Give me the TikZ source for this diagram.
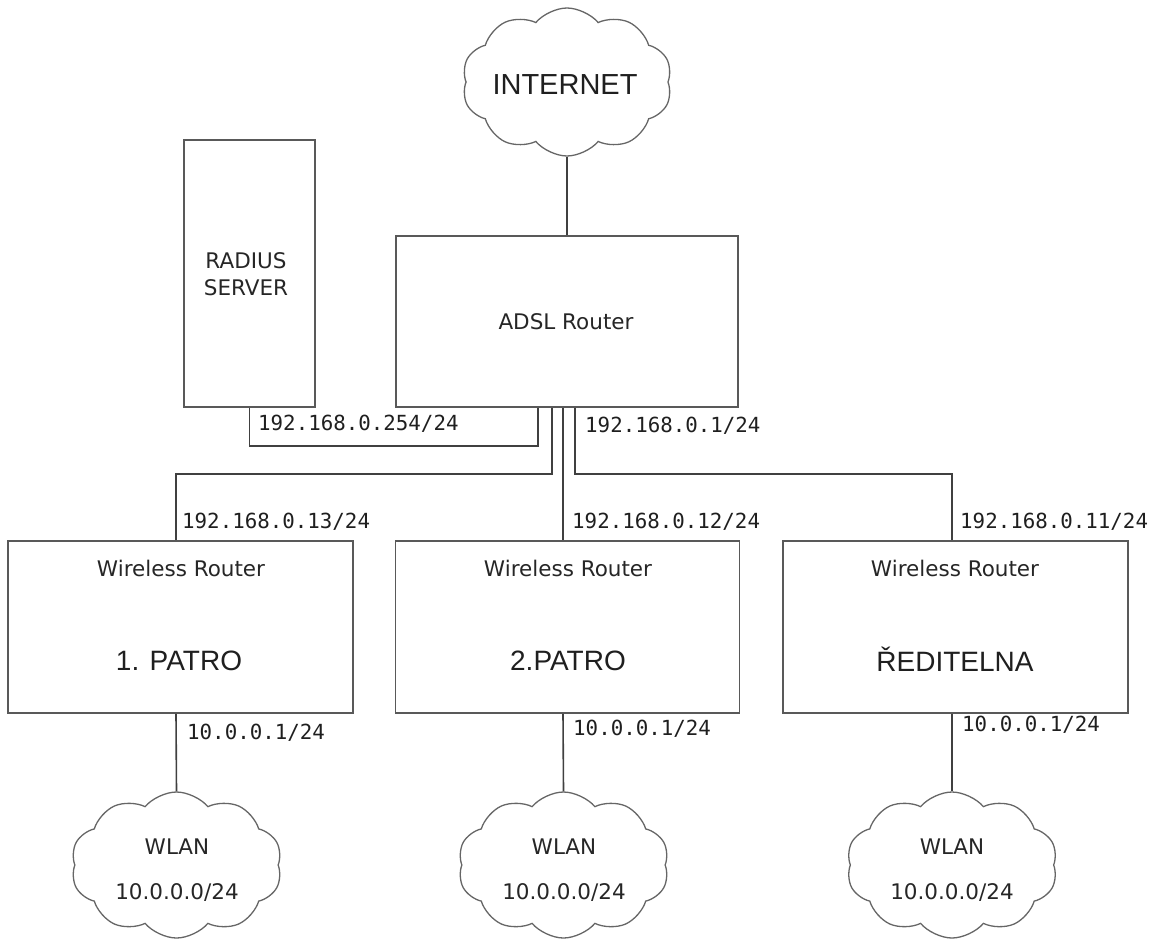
\documentclass[tikz,border=0pt]{standalone}
\usepackage{fontspec}
\usetikzlibrary{shapes.symbols}
\newfontfamily\dvsans{DejaVu Sans}
\newfontfamily\dvmono{DejaVu Sans Mono}
\newfontfamily\arialf{Liberation Sans}
\begin{document}
\begin{tikzpicture}[x=1pt,y=-1pt,
  box/.style={draw=black!65, line width=1.6pt, rectangle, inner sep=0pt},
  cloudnode/.style={draw=black!60, line width=1.3pt, cloud, cloud puffs=10, cloud puff arc=100, aspect=1.45, inner sep=0pt},
  conn/.style={draw=black!75, line width=1.6pt},
  iplabel/.style={font=\dvmono\fontsize{20.8}{24}\selectfont, text=black!88, anchor=west, inner sep=0pt},
  boxtext/.style={font=\dvsans\fontsize{21.5}{26}\selectfont, text=black!85, inner sep=0pt},
  bigtext/.style={font=\arialf\fontsize{28}{32}\selectfont, text=black!88, inner sep=0pt},
  cloudtext/.style={font=\dvsans\fontsize{21.5}{45}\selectfont, text=black!85, align=center, inner sep=0pt}
]
\useasboundingbox (0,0) rectangle (1151,938);

% clouds
\node[cloudnode, minimum width=210pt, minimum height=148pt] (internet) at (567,82) {};
\node[font=\arialf\fontsize{29}{32}\selectfont, text=black!88, inner sep=0pt] (internettext) at (565,85) {INTERNET};

% boxes
\node[box, minimum width=342pt, minimum height=171pt] (adsl) at (567,321.5) {};
\node[boxtext] (adsltext) at (566,322) {ADSL Router};

\node[box, minimum width=131pt, minimum height=267pt] (radius) at (249.5,273.5) {};
\node[boxtext, align=center, font=\dvsans\fontsize{21.5}{27}\selectfont] (radiustext) at (246,274) {RADIUS\\SERVER};

\node[box, minimum width=345pt, minimum height=172pt] (w1) at (180.5,627) {};
\node[box, minimum width=344pt, minimum height=172pt] (w2) at (567.5,627) {};
\node[box, minimum width=345pt, minimum height=172pt] (w3) at (955.5,627) {};

\node[boxtext] (w1a) at (181,568) {Wireless Router};
\node[boxtext] (w2a) at (568,568) {Wireless Router};
\node[boxtext] (w3a) at (955,568) {Wireless Router};
\node[bigtext] (w1b) at (179,661) {1. PATRO};
\node[bigtext] (w2b) at (568,661) {2.PATRO};
\node[bigtext] (w3b) at (955,659) {ŘEDITELNA};

\node[cloudnode, minimum width=211pt, minimum height=146pt] (wl1) at (176.5,865) {};
\node[cloudnode, minimum width=211pt, minimum height=146pt] (wl2) at (563.5,865) {};
\node[cloudnode, minimum width=211pt, minimum height=146pt] (wl3) at (952,865) {};
\node[cloudtext] (wl1t) at (177,870) {WLAN\\10.0.0.0/24};
\node[cloudtext] (wl2t) at (564,870) {WLAN\\10.0.0.0/24};
\node[cloudtext] (wl3t) at (952,870) {WLAN\\10.0.0.0/24};

% connectors
\draw[conn] (internet.south) -- (adsl.north);
\draw[conn] (radius.south) -- ++(0,38) -| ([xshift=-29pt]adsl.south);
\draw[conn] ([xshift=-15pt]adsl.south) -- ++(0,66) -| ([xshift=-4.5pt]w1.north);
\draw[conn] ([xshift=-4pt]adsl.south) -- ([xshift=-4.5pt]w2.north);
\draw[conn] ([xshift=8pt]adsl.south) -- ++(0,66) -| ([xshift=-3.5pt]w3.north);
\draw[conn] ([xshift=-4.5pt]w1.south) -- (wl1.north);
\draw[conn] ([xshift=-4.5pt]w2.south) -- (wl2.north);
\draw[conn] ([xshift=-3.5pt]w3.south) -- (wl3.north);

% ip labels
\node[iplabel] (l254) at (258,424) {192.168.0.254/24};
\node[iplabel] (l1) at (585,426) {192.168.0.1/24};
\node[iplabel] (l13) at (182,522) {192.168.0.13/24};
\node[iplabel] (l12) at (572,522) {192.168.0.12/24};
\node[iplabel] (l11) at (960,522) {192.168.0.11/24};
\node[iplabel] (g1) at (187,733) {10.0.0.1/24};
\node[iplabel] (g2) at (573,729) {10.0.0.1/24};
\node[iplabel] (g3) at (962,725) {10.0.0.1/24};
\end{tikzpicture}
\end{document}
